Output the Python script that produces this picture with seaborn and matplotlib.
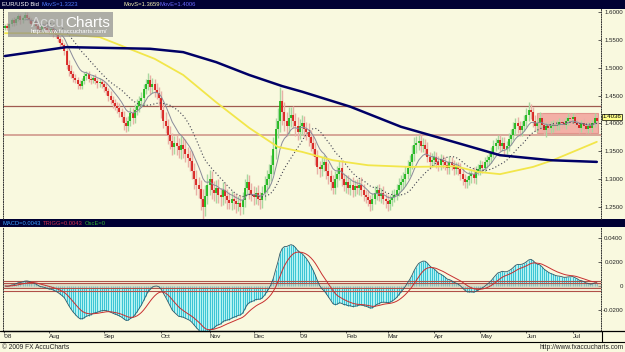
import numpy as np
import pandas as pd
import matplotlib
matplotlib.use("Agg")
import matplotlib.pyplot as plt
import seaborn as sns
from matplotlib.patches import Rectangle
from matplotlib.lines import Line2D

# ---------------- data ----------------
close = [
    1.575, 1.572, 1.578, 1.585, 1.580, 1.588, 1.592, 1.585, 1.590, 1.595,
    1.590, 1.585, 1.578, 1.582, 1.575, 1.570, 1.568, 1.575, 1.572, 1.568,
    1.565, 1.570, 1.562, 1.558, 1.552, 1.545, 1.540, 1.530, 1.505, 1.495,
    1.488, 1.482, 1.478, 1.470, 1.468, 1.476, 1.485, 1.488, 1.480, 1.478,
    1.482, 1.476, 1.472, 1.474, 1.470, 1.465, 1.458, 1.450, 1.442, 1.436,
    1.432, 1.428, 1.420, 1.412, 1.400, 1.395, 1.405, 1.418, 1.410, 1.425,
    1.432, 1.440, 1.445, 1.462, 1.470, 1.478, 1.465, 1.470, 1.460, 1.455,
    1.445, 1.425, 1.405, 1.395, 1.380, 1.368, 1.358, 1.365, 1.360, 1.352,
    1.362, 1.355, 1.345, 1.338, 1.332, 1.315, 1.300, 1.290, 1.282, 1.265,
    1.250, 1.270, 1.290, 1.300, 1.280, 1.275, 1.285, 1.272, 1.268, 1.280,
    1.270, 1.262, 1.258, 1.265, 1.260, 1.255, 1.258, 1.250, 1.262, 1.285,
    1.295, 1.280, 1.272, 1.268, 1.275, 1.265, 1.262, 1.275, 1.290, 1.300,
    1.310, 1.325, 1.355, 1.390, 1.405, 1.440, 1.420, 1.405, 1.395, 1.410,
    1.415, 1.405, 1.395, 1.385, 1.395, 1.400, 1.390, 1.385, 1.375, 1.365,
    1.355, 1.340, 1.322, 1.318, 1.325, 1.330, 1.315, 1.305, 1.295, 1.285,
    1.300, 1.310, 1.320, 1.300, 1.290, 1.295, 1.285, 1.290, 1.280, 1.288,
    1.285, 1.290, 1.280, 1.272, 1.268, 1.262, 1.255, 1.265, 1.275, 1.280,
    1.270, 1.275, 1.265, 1.260, 1.255, 1.262, 1.268, 1.272, 1.280, 1.290,
    1.295, 1.300, 1.310, 1.320, 1.330, 1.345, 1.362, 1.365, 1.368, 1.360,
    1.362, 1.355, 1.340, 1.330, 1.335, 1.340, 1.330, 1.325, 1.335, 1.330,
    1.325, 1.320, 1.330, 1.325, 1.318, 1.322, 1.318, 1.310, 1.300, 1.295,
    1.298, 1.305, 1.310, 1.302, 1.315, 1.318, 1.325, 1.320, 1.330, 1.335,
    1.340, 1.348, 1.360, 1.365, 1.370, 1.360, 1.365, 1.355, 1.360, 1.372,
    1.380, 1.390, 1.400, 1.395, 1.388, 1.395, 1.405, 1.415, 1.425, 1.420,
    1.405, 1.395, 1.400, 1.410, 1.398, 1.388, 1.395, 1.392, 1.395, 1.398,
    1.395, 1.398, 1.402, 1.400, 1.398, 1.405, 1.410, 1.408, 1.412, 1.400,
    1.398, 1.392, 1.400, 1.395, 1.390, 1.395, 1.392, 1.400, 1.410, 1.4036,
]
first_open = 1.572
# upper / lower wick lengths in pips
wick_up = [
    40, 55, 30, 45, 60, 35, 50, 40, 30, 55, 45, 30, 50, 40, 35, 60, 45, 30, 50, 40,
    35, 50, 45, 60, 40, 55, 70, 50, 60, 80, 90, 60, 70, 50, 80, 60, 75, 55, 70, 60,
    50, 70, 60, 80, 55, 65, 75, 60, 90, 70, 80, 60, 90, 70, 100, 120, 80, 110, 90, 100,
    120, 90, 110, 80, 100, 130, 90, 110, 100, 120, 110, 140, 120, 150, 130, 160, 140, 120, 150, 130,
    160, 140, 170, 120, 150, 180, 140, 160, 130, 170, 180, 200, 190, 160, 150, 170, 140, 160, 130, 150,
    140, 120, 150, 130, 110, 140, 120, 130, 150, 160, 140, 120, 130, 150, 110, 140, 120, 130, 150, 160,
    170, 180, 200, 190, 220, 250, 200, 180, 160, 190, 150, 170, 140, 160, 130, 150, 140, 120, 150, 130,
    140, 120, 130, 110, 150, 130, 120, 140, 110, 130, 150, 130, 120, 140, 110, 130, 120, 100, 130, 110,
    120, 100, 130, 110, 90, 120, 100, 110, 130, 100, 110, 90, 120, 100, 110, 90, 120, 100, 110, 120,
    130, 120, 140, 150, 130, 160, 140, 120, 110, 130, 120, 100, 110, 90, 120, 100, 90, 110, 100, 90,
    100, 80, 110, 90, 100, 80, 90, 110, 100, 90, 80, 100, 90, 110, 80, 100, 90, 80, 100, 90,
    100, 90, 110, 80, 100, 90, 110, 100, 90, 110, 100, 120, 90, 110, 100, 90, 110, 120, 130, 100,
    90, 110, 80, 100, 90, 110, 80, 90, 100, 80, 70, 90, 80, 60, 90, 70, 80, 90, 70, 60,
    80, 70, 60, 90, 70, 80, 60, 70, 90, 50,
]
wick_dn = [
    50, 35, 45, 30, 55, 40, 35, 60, 45, 30, 35, 55, 40, 30, 60, 45, 35, 55, 40, 50,
    50, 40, 60, 45, 55, 70, 50, 65, 80, 90, 70, 80, 60, 90, 70, 55, 60, 70, 65, 80,
    60, 55, 75, 60, 70, 80, 65, 90, 70, 80, 70, 90, 80, 100, 120, 110, 90, 100, 110, 90,
    90, 110, 100, 120, 90, 100, 130, 100, 120, 110, 130, 150, 140, 130, 160, 140, 150, 130, 160, 140,
    150, 170, 140, 160, 180, 150, 170, 190, 160, 200, 220, 170, 150, 180, 160, 140, 170, 150, 160, 140,
    130, 150, 120, 140, 130, 150, 120, 140, 130, 120, 130, 150, 120, 140, 130, 120, 150, 130, 120, 140,
    150, 140, 160, 180, 170, 200, 220, 190, 170, 160, 160, 140, 170, 150, 130, 160, 150, 140, 160, 150,
    130, 150, 120, 140, 130, 110, 140, 130, 150, 120, 120, 140, 110, 130, 120, 140, 110, 130, 120, 100,
    110, 130, 100, 120, 110, 100, 130, 110, 100, 120, 100, 120, 90, 110, 130, 100, 110, 90, 100, 110,
    110, 130, 120, 100, 140, 120, 130, 150, 120, 110, 110, 120, 100, 110, 90, 120, 100, 110, 90, 100,
    90, 110, 100, 80, 110, 90, 100, 120, 110, 100, 100, 90, 110, 90, 100, 80, 110, 90, 80, 100,
    90, 110, 100, 90, 110, 100, 90, 110, 100, 90, 110, 90, 100, 120, 110, 100, 90, 110, 100, 120,
    110, 90, 100, 80, 110, 90, 120, 80, 90, 100, 80, 70, 90, 80, 60, 80, 70, 90, 80, 70,
    70, 90, 80, 60, 80, 70, 90, 70, 60, 70,
]
# long moving averages (sampled along the chart: bar index, value)
ma200_idx = [0, 28, 66, 81, 96, 111, 126, 135, 157, 180, 203, 225, 248, 269]
ma200_val = [1.521, 1.537, 1.534, 1.528, 1.510, 1.487, 1.467, 1.457, 1.430, 1.394, 1.368, 1.343, 1.334, 1.331]
ma100_idx = [0, 20, 43, 68, 81, 96, 111, 124, 135, 149, 165, 184, 205, 215, 225, 240, 249, 269]
ma100_val = [1.562, 1.562, 1.555, 1.516, 1.487, 1.438, 1.392, 1.358, 1.349, 1.334, 1.325, 1.322, 1.323,
             1.313, 1.309, 1.322, 1.334, 1.367]

month_pos = [-0.5, 20, 45, 71, 93, 113, 134, 155, 174, 195, 216, 237, 258]
month_lab = ["'08", "Aug", "Sep", "Oct", "Nov", "Dec", "'09", "Feb", "Mar", "Apr", "May", "Jun", "Jul"]
price_ticks = [1.25, 1.30, 1.35, 1.40, 1.45, 1.50, 1.55, 1.60]
macd_ticks = [-0.02, 0.0, 0.02, 0.04]
macd_tick_lab = ["-0.0200", "0", "0.0200", "0.0400"]
resistance = 1.4313
support = 1.3798
range_box = (241.8, 269.5, 1.3828, 1.4187)   # x0, x1, low, high
macd_levels = [0.0042, 0.0021, -0.0019, -0.0039]

# ---------------- style ----------------
sns.set_theme(style="white")
plt.rcParams["font.family"] = ["Liberation Sans", "DejaVu Sans"]

W, H = 625, 352
BG = "#f9f9df"
NAVY = "#000033"
fig = plt.figure(figsize=(W / 100, H / 100), dpi=100, facecolor=BG)


def rect(x0, y0, x1, y1):
    return [x0 / W, 1 - y1 / H, (x1 - x0) / W, (y1 - y0) / H]


def fx(x):
    return x / W


def fy(y):
    return 1 - y / H


# header bars
for (y0, y1) in [(0, 9), (219, 227)]:
    hb = fig.add_axes(rect(0, y0, W, y1))
    hb.set_facecolor(NAVY)
    hb.set_xticks([]); hb.set_yticks([])
    for s in hb.spines.values():
        s.set_visible(False)

HFS = 4.2
hy = fy(4.8)
fig.text(fx(2), hy, "EUR/USD Bid", color="white", fontsize=HFS, va="center")
fig.text(fx(41), hy, "MovS=1.3323", color="#4f7bff", fontsize=HFS, va="center")
fig.text(fx(124), hy, "MovS=1.3659", color="#f4f0b0", fontsize=HFS, va="center")
fig.text(fx(160), hy, "MovE=1.4006", color="#6a6aff", fontsize=HFS, va="center")
hy2 = fy(223.2)
fig.text(fx(3), hy2, "MACD=0.0043", color="#3aa0ff", fontsize=HFS, va="center")
fig.text(fx(43), hy2, "TRIGG=0.0043", color="#d03050", fontsize=HFS, va="center")
fig.text(fx(85), hy2, "OscE=0", color="#30b030", fontsize=HFS, va="center")

# ---------------- price panel ----------------
ax = fig.add_axes(rect(3, 9, 601, 219))
ax.set_facecolor(BG)
n = len(close)
idx = np.arange(n)
c = np.array(close)
o = np.r_[first_open, c[:-1]]
hi = np.maximum(o, c) + np.array(wick_up) / 1e4
lo = np.minimum(o, c) - np.array(wick_dn) / 1e4
up = c >= o

ax.add_patch(Rectangle((range_box[0], range_box[2]), range_box[1] - range_box[0],
                       range_box[3] - range_box[2], facecolor="#f2a49c", edgecolor="#e08a84",
                       lw=0.8, alpha=0.85, zorder=1))
ax.axhline(resistance, color="#a05a50", lw=0.9, zorder=1.2)
ax.axhline(support, color="#d4a092", lw=1.3, zorder=1.2)

ax.vlines(idx[up], lo[up], hi[up], color="#a8d8a0", lw=1.0, zorder=2)
ax.vlines(idx[~up], lo[~up], hi[~up], color="#e8b0a6", lw=1.0, zorder=2)
ax.vlines(idx[up], o[up], c[up], color="#00b000", lw=1.1, zorder=2.1)
ax.vlines(idx[~up], c[~up], o[~up], color="#d40000", lw=1.1, zorder=2.1)

df = pd.DataFrame({"bar": idx, "close": c})
df["sma20"] = df["close"].rolling(20).mean()
df["ema10"] = df["close"].ewm(span=10, adjust=False, min_periods=10).mean()
sns.lineplot(data=df, x="bar", y="ema10", ax=ax, color="#8a8a9a", lw=0.7, zorder=3)
sns.lineplot(data=df, x="bar", y="sma20", ax=ax, color="#404050", lw=0.8,
             linestyle=(0, (1, 2)), zorder=3)
sns.lineplot(x=ma100_idx, y=ma100_val, ax=ax, color="#f2e64a", lw=1.3, zorder=3)
sns.lineplot(x=ma200_idx, y=ma200_val, ax=ax, color="#000066", lw=1.8, zorder=3)

ax.set_xlim(-0.91, 270.9)
ax.set_ylim(1.2285, 1.6054)
ax.set_xlabel(""); ax.set_ylabel("")
ax.set_xticks([])
ax.yaxis.tick_right()
ax.set_yticks(price_ticks)
ax.set_yticklabels([f"{v:.4f}" for v in price_ticks])
ax.tick_params(axis="y", direction="in", length=2, width=0.5, pad=15.8,
               labelsize=4.4, colors="#222222")
for lbl in ax.get_yticklabels():
    lbl.set_horizontalalignment("right")
for s in ["top", "bottom"]:
    ax.spines[s].set_visible(False)
for s in ["left", "right"]:
    ax.spines[s].set_linestyle((0, (1, 1.5)))
    ax.spines[s].set_color("#333333")
    ax.spines[s].set_linewidth(0.7)

# last price box
fig.text(fx(612), fy(117), "1.4036", fontsize=4.4, ha="center", va="center", color="black",
         bbox=dict(boxstyle="square,pad=0.15", facecolor="#ffff88", edgecolor="black", lw=0.5))

# logo
fig.add_artist(Rectangle((fx(8), fy(37)), (113 - 8) / W, 25 / H, transform=fig.transFigure,
                         facecolor="#909090", edgecolor="none", alpha=0.72, zorder=5))
fig.text(fx(31), fy(27), "Accu", color="#d6d6d6", fontsize=11, zorder=6)
fig.text(fx(65), fy(27), "Charts", color="white", fontsize=11, zorder=6)
fig.text(fx(31), fy(32), "http://www.fxaccucharts.com/", color="white", fontsize=4.2,
         va="center", zorder=6)

# ---------------- MACD panel ----------------
ax2 = fig.add_axes(rect(3, 227, 601, 331))
ax2.set_facecolor(BG)
ema12 = df["close"].ewm(span=12, adjust=False).mean()
ema26 = df["close"].ewm(span=26, adjust=False).mean()
df["macd"] = ema12 - ema26
df["trigg"] = df["macd"].ewm(span=9, adjust=False).mean()

ax2.fill_between(idx, 0, df["macd"], color="#b4f2f2", lw=0, zorder=1)
ax2.vlines(idx, 0, df["macd"], color="#38c4d4", lw=0.7, zorder=1.5)
ax2.axhspan(macd_levels[2], macd_levels[1], color="#cfc4ac", alpha=0.55, lw=0, zorder=2)
for lv in macd_levels:
    ax2.axhline(lv, color="#b05048", lw=0.8, zorder=2.2)
sns.lineplot(data=df, x="bar", y="macd", ax=ax2, color="#305868", lw=0.6, zorder=3)
sns.lineplot(data=df, x="bar", y="trigg", ax=ax2, color="#c83030", lw=0.7, zorder=3)

ax2.set_xlim(-0.91, 270.9)
ax2.set_ylim(-0.0375, 0.04917)
ax2.set_xlabel(""); ax2.set_ylabel("")
ax2.yaxis.tick_right()
ax2.set_yticks(macd_ticks)
ax2.set_yticklabels(macd_tick_lab)
ax2.tick_params(axis="y", direction="in", length=2, width=0.5, pad=15.8,
                labelsize=4.4, colors="#222222")
for lbl in ax2.get_yticklabels():
    lbl.set_horizontalalignment("right")
ax2.set_xticks(month_pos)
ax2.set_xticklabels(month_lab)
ax2.tick_params(axis="x", direction="out", length=1.5, width=0.5, pad=0.8,
                labelsize=4.6, colors="#222222", bottom=True)
for lbl in ax2.get_xticklabels():
    lbl.set_horizontalalignment("left")
ax2.spines["top"].set_visible(False)
ax2.spines["bottom"].set_color("black")
ax2.spines["bottom"].set_linewidth(0.9)
for s in ["left", "right"]:
    ax2.spines[s].set_linestyle((0, (1, 1.5)))
    ax2.spines[s].set_color("#333333")
    ax2.spines[s].set_linewidth(0.7)

# bottom frame and footer
fig.add_artist(Line2D([0, 1], [fy(331), fy(331)], transform=fig.transFigure, color="black", lw=0.9))
fig.add_artist(Line2D([0, 1], [fy(342), fy(342)], transform=fig.transFigure, color="black", lw=0.8))
fig.add_artist(Line2D([fx(602), fx(602)], [fy(331), fy(342)], transform=fig.transFigure,
                      color="black", lw=0.8))
fig.text(fx(2), fy(347.5), "\u00a9 2009 FX AccuCharts", fontsize=4.8, va="center", color="#222222")
fig.text(fx(624), fy(347.5), "http://www.fxaccucharts.com", fontsize=4.8, va="center",
         ha="right", color="#222222")

fig.savefig("out.png", dpi=100, facecolor=BG)
